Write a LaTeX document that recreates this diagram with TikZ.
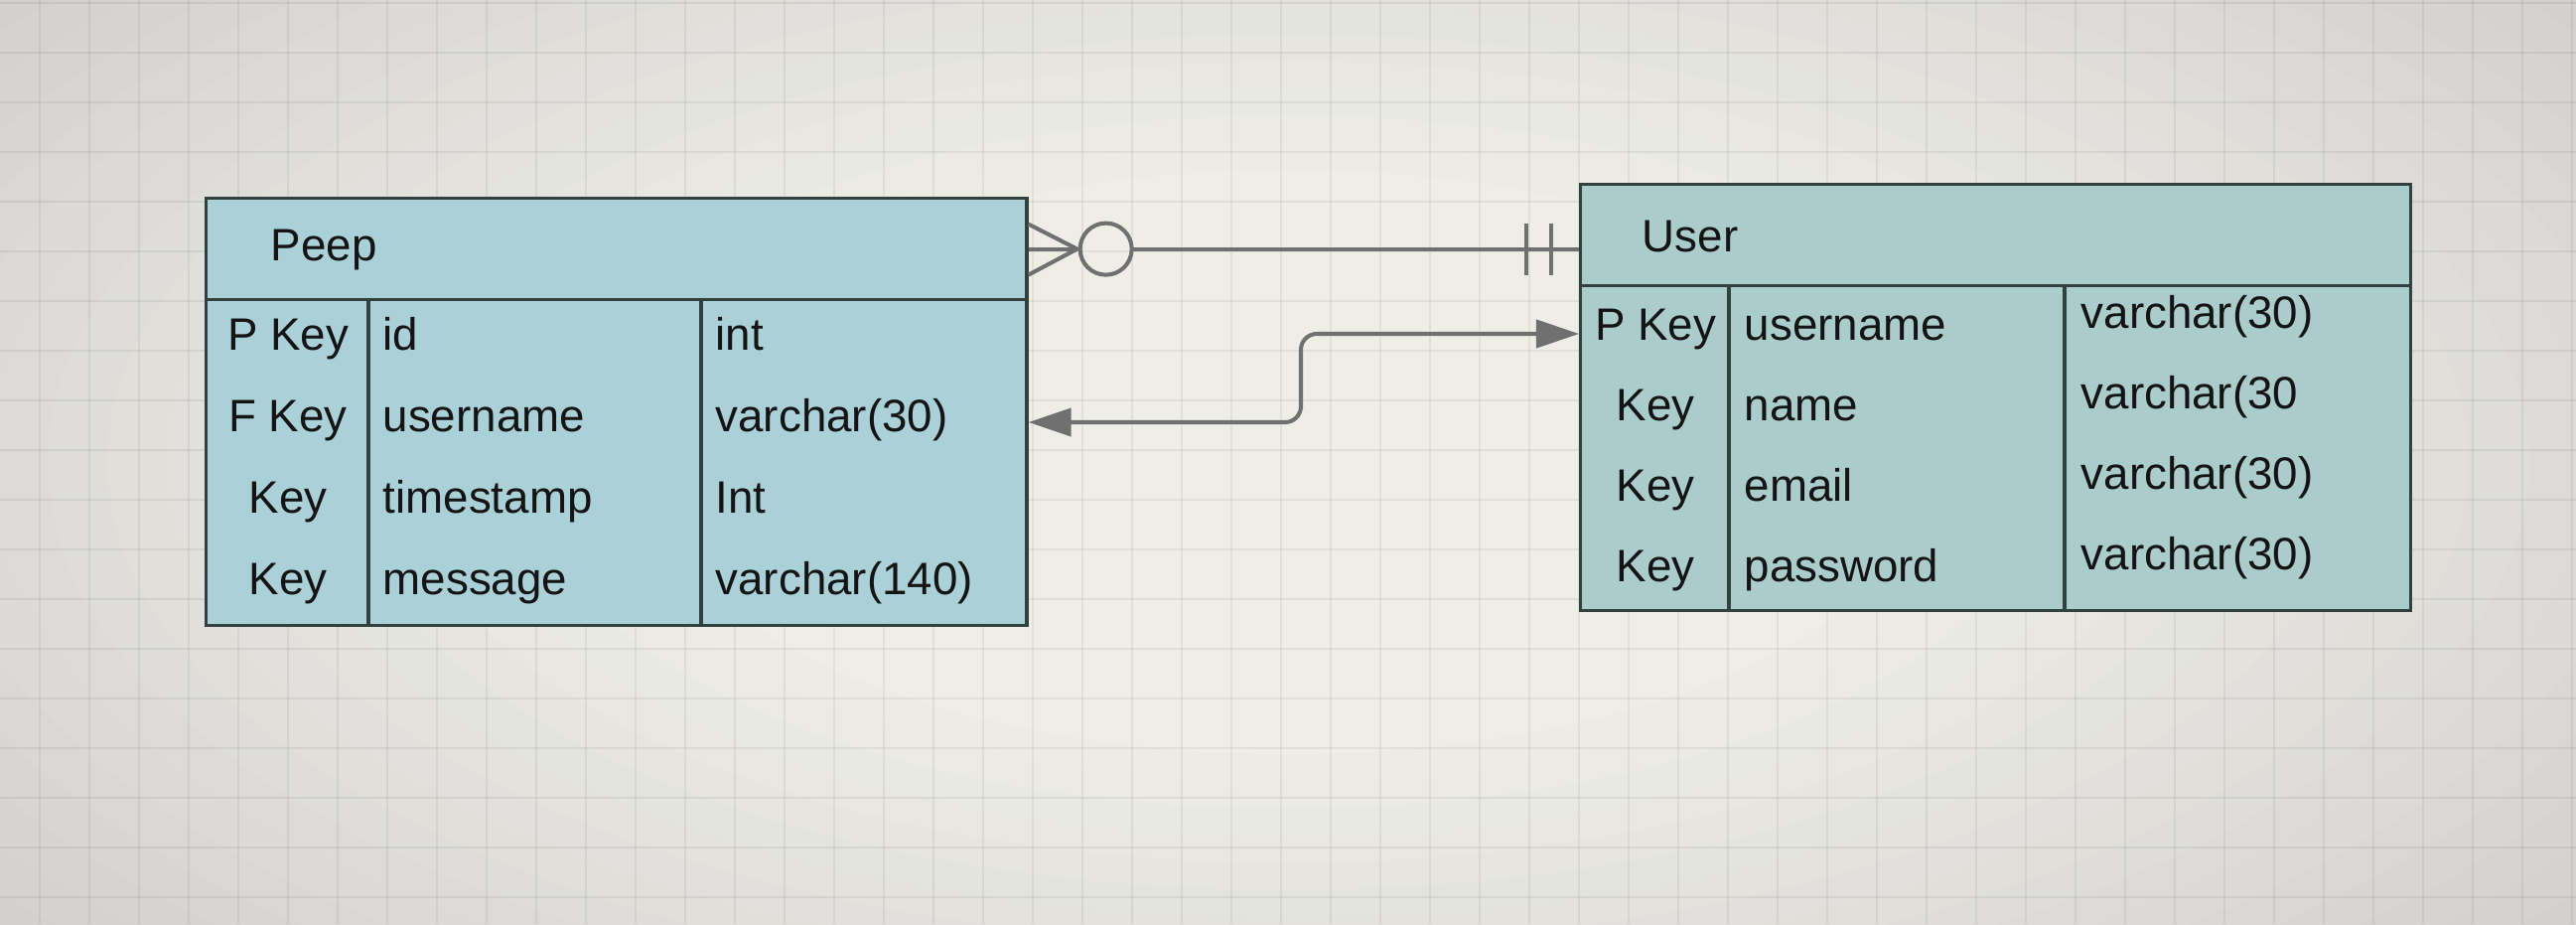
\documentclass[tikz,border=0pt]{standalone}
\usepackage{fontspec}
\setmainfont{Liberation Sans}
\usepackage{xcolor}
\usepackage{tikz}
\usetikzlibrary{positioning, arrows.meta, calc}

\definecolor{paper}{RGB}{238,238,231}
\definecolor{paperedge}{RGB}{206,204,203}
\definecolor{peepfill}{RGB}{170,209,215}
\definecolor{userfill}{RGB}{170,205,203}
\definecolor{tableline}{RGB}{50,64,64}
\definecolor{linkgray}{RGB}{112,112,112}

\begin{document}
\begin{tikzpicture}[
  x=0.01cm, y=-0.01cm,
  every node/.style={font=\fontsize{13}{15}\selectfont, text=black!92},
  tbl/.style={rectangle, fill=#1, draw=tableline, line width=0.9pt,
              anchor=north west, inner sep=0pt},
  colline/.style={draw=tableline, line width=0.9pt},
  gridline/.style={draw=black, draw opacity=0.06, line width=0.5pt},
  cell/.style={anchor=base west, inner sep=0pt},
  keycell/.style={anchor=base, inner sep=0pt},
  link/.style={draw=linkgray, line width=1.15pt},
]
\useasboundingbox (0,0) rectangle (2594,930);

% canvas, lighter towards the middle
\begin{scope}
\clip (0,0) rectangle (2594,930);
\fill[paperedge] (0,0) rectangle (2594,930);
\foreach \i in {0,...,20} {
  \pgfmathsetmacro\t{1-0.65*\i/20}
  \pgfmathtruncatemacro\p{5*\i}
  \fill[paper!\p!paperedge] (1297,465) ellipse[x radius={18.5cm*\t}, y radius={8.4cm*\t}];
}
\end{scope}
\foreach \x in {40,90,...,2590}
  \draw[gridline] (\x,0) -- (\x,930);
\foreach \y in {3,53,...,903}
  \draw[gridline] (0,\y) -- (2594,\y);

% Peep table
\node[tbl=peepfill, minimum width=8.26cm, minimum height=1.02cm] (peephead) at (206,198) {};
\node[tbl=peepfill, minimum width=8.26cm, minimum height=3.28cm] (peepbody) at (206,300) {};
\foreach \x in {371, 706}
  \draw[colline] (\x,300) -- (\x,628);
\node[cell] (peeptitle) at (272,262) {Peep};
\foreach \k/\n/\t [count=\i] in {P Key/id/int, F Key/username/varchar(30),
                                  Key/timestamp/Int, Key/message/varchar(140)} {
  \node[keycell] (p-key-\i) at (290,{270+82*\i}) {\k};
  \node[cell] (p-name-\i) at (385,{270+82*\i}) {\n};
  \node[cell] (p-type-\i) at (720,{270+82*\i}) {\t};
}

% User table
\node[tbl=userfill, minimum width=8.35cm, minimum height=1.02cm] (userhead) at (1590,184) {};
\node[tbl=userfill, minimum width=8.35cm, minimum height=3.27cm] (userbody) at (1590,286) {};
\foreach \x in {1741, 2079}
  \draw[colline] (\x,286) -- (\x,613);
\node[cell] (usertitle) at (1653,253) {User};
\foreach \k/\n/\t [count=\i] in {P Key/username/varchar(30), Key/name/varchar(30,
                                  Key/email/varchar(30), Key/password/varchar(30)} {
  \node[keycell] (u-key-\i) at (1667,{261+81*\i}) {\k};
  \node[cell] (u-name-\i) at (1756,{261+81*\i}) {\n};
  \node[cell] (u-type-\i) at (2095,{249+81*\i}) {\t};
}

% zero-or-many to exactly one
\coordinate (crow) at ($(peephead.east)+(49,0)$);
\coordinate (one) at (peephead.east -| userhead.west);
\draw[link] ($(peephead.east)+(0,-25)$) -- (crow) -- ($(peephead.east)+(0,26)$);
\draw[link] (peephead.east) -- (crow);
\draw[link] ($(crow)+(29,0)$) circle[radius=0.26cm];
\draw[link] ($(crow)+(55,0)$) -- (one);
\foreach \dx in {-53,-28}
  \draw[link] ($(one)+(\dx,-26)$) -- ++(0,52);

% username reference
\coordinate (jog) at (1310,0);
\coordinate (peepend) at (1032,425);
\coordinate (userend) at (1590,336);
\draw[link, rounded corners=0.16cm, {Triangle[length=4.3mm, width=2.8mm]}-{Triangle[length=4.3mm, width=2.8mm]}]
  (peepbody.east |- peepend) -- (jog |- peepend)
  -- (jog |- userend) -- (userbody.west |- userend);
\end{tikzpicture}
\end{document}
